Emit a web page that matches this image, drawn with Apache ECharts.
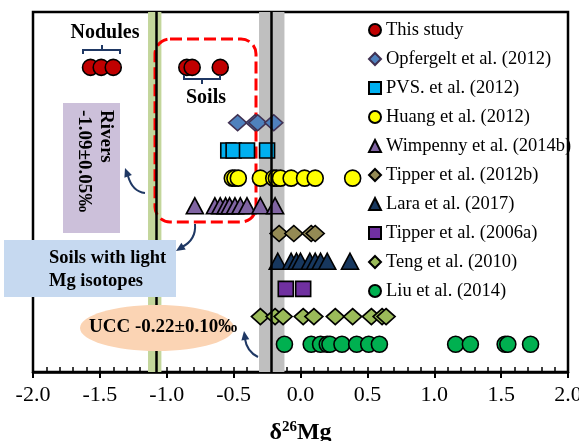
<!DOCTYPE html>
<html><head><meta charset="utf-8">
<script src="https://cdn.jsdelivr.net/npm/echarts@6/dist/echarts.min.js"></script>
<style>html,body{margin:0;padding:0;background:#fff}#c{width:579px;height:441px}</style>
</head><body><div id="c"></div>
<script>
const FONT = '"Liberation Serif","Times New Roman",serif';

// ---- data ----
const seriesNames = ['This study','Opfergelt et al. (2012)','PVS. et al. (2012)','Huang et al. (2012)','Wimpenny et al. (2014b)','Tipper et al. (2012b)','Lara et al. (2017)','Tipper et al. (2006a)','Teng et al. (2010)','Liu et al. (2014)'];
const rowPositions = [11, 9, 8, 7, 6, 5, 4, 3, 2, 1];
const thisStudy   = [-1.57, -1.49, -1.40, -0.85, -0.81, -0.60];
const opfergelt   = [-0.47, -0.34, -0.32, -0.20];
const pvs         = [-0.54, -0.50, -0.40, -0.25];
const huang       = [-0.51, -0.49, -0.465, -0.30, -0.20, -0.18, -0.15, -0.07, 0.03, 0.11, 0.39];
const wimpenny    = [-0.79, -0.64, -0.60, -0.56, -0.53, -0.49, -0.45, -0.40, -0.30, -0.19];
const tipper2012b = [-0.16, -0.05, 0.08, 0.11];
const lara        = [-0.17, -0.07, -0.03, 0.00, 0.07, 0.11, 0.15, 0.20, 0.37];
const tipper2006a = [-0.11, 0.02];
const teng        = [-0.30, -0.19, -0.13, 0.02, 0.10, 0.26, 0.39, 0.53, 0.61, 0.64];
const liu         = [-0.12, 0.08, 0.15, 0.20, 0.22, 0.31, 0.42, 0.51, 0.59, 1.16, 1.27, 1.53, 1.55, 1.72];
const seriesValues = [thisStudy, opfergelt, pvs, huang, wimpenny, tipper2012b, lara, tipper2006a, teng, liu];
const xTickLabels = ['-2.0','-1.5','-1.0','-0.5','0.0','0.5','1.0','1.5','2.0'];
const riversMean = -1.08, riversBand = [-1.14, -1.04];
const uccMean = -0.22, uccBand = [-0.31, -0.12];

// ---- styles ----
const symbols = ['circle','diamond','rect','circle','triangle','diamond','triangle','rect','diamond','circle'];
const fills = ['#c00000','#4f81bd','#00b0f0','#ffff00','#8064a2','#948a54','#17375e','#7030a0','#9bbb59','#00b050'];
const borders = ['#000','#403152','#000','#000','#000','#000','#000','#000','#000','#000'];
const sizes = [16,[18,16],15,16,[17,16],[18,16],[17,16],15,[18,16],16];

const series = seriesNames.map((name, i) => ({
  name, type: 'scatter', z: 3,
  symbol: symbols[i], symbolSize: sizes[i],
  itemStyle: { color: fills[i], borderColor: borders[i], borderWidth: 1.6, opacity: 1 },
  data: seriesValues[i].map(v => [v, rowPositions[i]])
}));

series.unshift({
  name: 'refs', type: 'scatter', data: [], z: 1, silent: true,
  markArea: { silent: true, itemStyle: { opacity: 1 }, data: [
    [{ xAxis: riversBand[0], itemStyle: { color: '#c3d69b' } }, { xAxis: riversBand[1] }],
    [{ xAxis: uccBand[0], itemStyle: { color: '#bfbfbf' } }, { xAxis: uccBand[1] }]
  ]},
  markLine: { silent: true, symbol: 'none', label: { show: false },
    lineStyle: { color: '#000', width: 2.5, type: 'solid' },
    data: [{ xAxis: riversMean }, { xAxis: uccMean }] }
});

function arrowHead(tx, ty, dx, dy) {
  const L = 9, W = 4;
  const n = Math.hypot(dx, dy); dx /= n; dy /= n;
  const bx = tx - L * dx, by = ty - L * dy;
  return [[tx, ty], [bx - W * dy, by + W * dx], [bx + W * dy, by - W * dx]];
}
const NAVY = '#1f3864';
const boldFont = s => 'bold ' + s + 'px ' + FONT;

const graphics = [
  // red dashed box
  { type: 'rect', z: 2, shape: { x: 155, y: 39, width: 101, height: 183, r: 15 },
    style: { fill: 'none', stroke: '#ff0000', lineWidth: 3, lineDash: [12, 5] } },
  // Nodules
  { type: 'text', z: 20, x: 105, y: 33, style: { text: 'Nodules', font: boldFont(20), fill: '#000', textAlign: 'center', textVerticalAlign: 'middle', align: 'center', verticalAlign: 'middle' } },
  { type: 'polyline', z: 20, shape: { points: [[83, 54], [83, 50], [120, 50], [120, 54]] }, style: { stroke: NAVY, lineWidth: 2, fill: 'none' } },
  { type: 'line', z: 20, shape: { x1: 102, y1: 50, x2: 102, y2: 45 }, style: { stroke: NAVY, lineWidth: 2 } },
  // Soils
  { type: 'text', z: 20, x: 206, y: 98, style: { text: 'Soils', font: boldFont(20), fill: '#000', textAlign: 'center', textVerticalAlign: 'middle', align: 'center', verticalAlign: 'middle' } },
  { type: 'polyline', z: 20, shape: { points: [[184, 75], [184, 79], [220, 79], [220, 75]] }, style: { stroke: NAVY, lineWidth: 2, fill: 'none' } },
  { type: 'line', z: 20, shape: { x1: 202, y1: 79, x2: 202, y2: 84 }, style: { stroke: NAVY, lineWidth: 2 } },
  // Rivers box
  { type: 'rect', z: 20, shape: { x: 63, y: 103, width: 57, height: 130 }, style: { fill: '#ccc0da' } },
  { type: 'text', z: 21, x: 106, y: 110, rotation: -Math.PI / 2, style: { text: 'Rivers', font: boldFont(19), fill: '#000', textAlign: 'left', textVerticalAlign: 'middle', align: 'left', verticalAlign: 'middle' } },
  { type: 'text', z: 21, x: 84, y: 110, rotation: -Math.PI / 2, style: { text: '-1.09\u00b10.05\u2030', font: boldFont(19), fill: '#000', textAlign: 'left', textVerticalAlign: 'middle', align: 'left', verticalAlign: 'middle' } },
  { type: 'bezierCurve', z: 20, shape: { x1: 145, y1: 193, cpx1: 135, cpy1: 192, cpx2: 130, cpy2: 183, x2: 128, y2: 176 }, style: { stroke: NAVY, lineWidth: 2, fill: 'none' } },
  { type: 'polygon', z: 20, shape: { points: arrowHead(125, 168, -0.35, -0.94) }, style: { fill: NAVY } },
  // Soils with light Mg isotopes box
  { type: 'rect', z: 20, shape: { x: 4, y: 240, width: 172, height: 57 }, style: { fill: '#c6d9f0' } },
  { type: 'text', z: 21, x: 49, y: 258, style: { text: 'Soils with light', font: boldFont(18.5), fill: '#000', textAlign: 'left', textVerticalAlign: 'middle', align: 'left', verticalAlign: 'middle' } },
  { type: 'text', z: 21, x: 49, y: 281, style: { text: 'Mg isotopes', font: boldFont(18.5), fill: '#000', textAlign: 'left', textVerticalAlign: 'middle', align: 'left', verticalAlign: 'middle' } },
  { type: 'bezierCurve', z: 20, shape: { x1: 195, y1: 224, cpx1: 196, cpy1: 236, cpx2: 190, cpy2: 243, x2: 182, y2: 247 }, style: { stroke: NAVY, lineWidth: 2, fill: 'none' } },
  { type: 'polygon', z: 20, shape: { points: arrowHead(176, 251, -0.85, 0.55) }, style: { fill: NAVY } },
  // UCC ellipse
  { type: 'ellipse', z: 20, shape: { cx: 157, cy: 328, rx: 77, ry: 23 }, style: { fill: '#fbd4b4' } },
  { type: 'text', z: 21, x: 89, y: 327, style: { text: 'UCC -0.22\u00b10.10\u2030', font: boldFont(19), fill: '#000', textAlign: 'left', textVerticalAlign: 'middle', align: 'left', verticalAlign: 'middle' } },
  { type: 'bezierCurve', z: 20, shape: { x1: 258, y1: 357, cpx1: 250, cpy1: 353, cpx2: 246, cpy2: 346, x2: 245, y2: 339 }, style: { stroke: NAVY, lineWidth: 2, fill: 'none' } },
  { type: 'polygon', z: 20, shape: { points: arrowHead(244, 331, -0.15, -0.99) }, style: { fill: NAVY } }
];

const chart = echarts.init(document.getElementById('c'), null, { renderer: 'canvas' });
chart.setOption({
  animation: false,
  backgroundColor: '#fff',
  textStyle: { fontFamily: FONT },
  grid: { left: 33, right: 11, top: 12, bottom: 69, show: true, borderColor: '#000', borderWidth: 2.5, backgroundColor: 'transparent', containLabel: false, outerBoundsMode: 'none' },
  xAxis: [
    { type: 'value', min: -2, max: 2, interval: 0.5,
      axisLine: { show: true, onZero: false, lineStyle: { color: '#000', width: 2.5 } },
      axisTick: { show: true, inside: false, length: 6, lineStyle: { color: '#000', width: 2 } },
      splitLine: { show: false },
      axisLabel: { color: '#000', fontSize: 22, fontFamily: FONT, margin: 12,
        formatter: v => xTickLabels[Math.round((v + 2) / 0.5)] },
      name: '{a|\u03b4}{b|26}{a|Mg}', nameLocation: 'middle', nameGap: 48,
      nameTextStyle: { rich: {
        a: { fontSize: 24, fontWeight: 'bold', fontFamily: FONT, color: '#000', lineHeight: 26 },
        b: { fontSize: 15, fontWeight: 'bold', fontFamily: FONT, color: '#000', lineHeight: 15, verticalAlign: 'top' } } } },
    { type: 'value', min: -2, max: 2, interval: 0.1, position: 'bottom',
      axisLine: { show: false }, axisLabel: { show: false }, splitLine: { show: false },
      axisTick: { show: true, inside: true, length: 5, lineStyle: { color: '#000', width: 1.5 } } }
  ],
  yAxis: { type: 'value', min: 0, max: 13, show: true,
    axisLine: { show: false }, axisTick: { show: false }, axisLabel: { show: false }, splitLine: { show: false } },
  legend: {
    data: seriesNames, orient: 'vertical', left: 363, top: 15,
    itemWidth: 12, itemHeight: 12, itemGap: 9,
    textStyle: { fontSize: 18.5, fontFamily: FONT, color: '#000', lineHeight: 20 }
  },
  series,
  graphic: { elements: graphics }
});
</script></body></html>
